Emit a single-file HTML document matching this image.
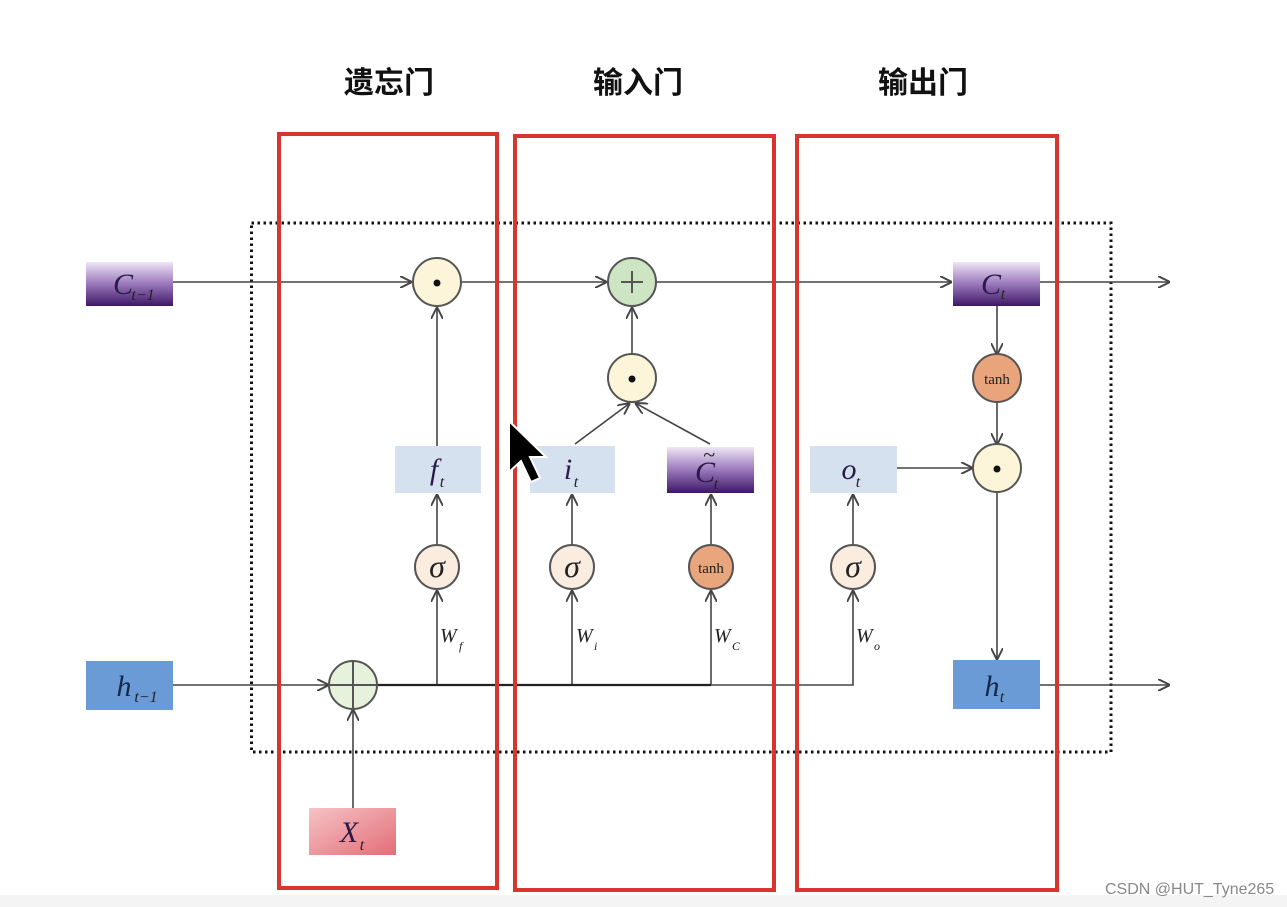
<!DOCTYPE html>
<html><head><meta charset="utf-8"><style>
html,body{margin:0;padding:0;background:#fff;}
svg{display:block;}
</style></head><body>
<svg width="1287" height="907" viewBox="0 0 1287 907" xmlns="http://www.w3.org/2000/svg">
<defs>
<linearGradient id="pur" x1="0" y1="0" x2="0" y2="1">
<stop offset="0" stop-color="#efe6f5"/><stop offset="0.5" stop-color="#9a78bb"/><stop offset="1" stop-color="#3e1766"/>
</linearGradient>
<linearGradient id="pink" x1="0" y1="0" x2="1" y2="1">
<stop offset="0" stop-color="#f6c3c6"/><stop offset="1" stop-color="#e36d76"/>
</linearGradient>
<marker id="ar" viewBox="0 0 10 10" refX="10" refY="5" markerWidth="12" markerHeight="12" markerUnits="userSpaceOnUse" orient="auto">
<path d="M0,0 L10,5 L0,10" fill="none" stroke="#444" stroke-width="1.6"/>
</marker>
</defs>
<rect x="0" y="895" width="1287" height="12" fill="#f4f4f4"/>
<g font-family="'Liberation Sans','Noto Sans CJK SC',sans-serif" font-weight="bold" font-size="30" fill="#111" text-anchor="middle">
<text x="389" y="93">遗忘门</text>
<text x="638" y="93">输入门</text>
<text x="923" y="93">输出门</text>
</g>
<rect x="251.5" y="223" width="859.5" height="529" fill="none" stroke="#111" stroke-width="3" stroke-dasharray="2.5 3.5"/>
<g stroke="#444" stroke-width="1.6" fill="none">
<line x1="173" y1="282" x2="412" y2="282" marker-end="url(#ar)"/>
<line x1="461" y1="282" x2="607" y2="282" marker-end="url(#ar)"/>
<line x1="656" y1="282" x2="952" y2="282" marker-end="url(#ar)"/>
<line x1="1040" y1="282" x2="1170" y2="282" marker-end="url(#ar)"/>
<line x1="437" y1="446" x2="437" y2="307" marker-end="url(#ar)"/>
<line x1="632" y1="354" x2="632" y2="307" marker-end="url(#ar)"/>
<line x1="575" y1="444" x2="630" y2="403" marker-end="url(#ar)"/>
<line x1="710" y1="444" x2="635" y2="403" marker-end="url(#ar)"/>
<line x1="437" y1="545" x2="437" y2="494" marker-end="url(#ar)"/>
<line x1="572" y1="545" x2="572" y2="494" marker-end="url(#ar)"/>
<line x1="711" y1="545" x2="711" y2="494" marker-end="url(#ar)"/>
<line x1="853" y1="545" x2="853" y2="494" marker-end="url(#ar)"/>
<line x1="437" y1="685" x2="437" y2="590" marker-end="url(#ar)"/>
<line x1="572" y1="685" x2="572" y2="590" marker-end="url(#ar)"/>
<line x1="711" y1="685" x2="711" y2="590" marker-end="url(#ar)"/>
<polyline points="377,685 853,685 853,590" marker-end="url(#ar)"/>
<line x1="173" y1="685" x2="329" y2="685" marker-end="url(#ar)"/>
<line x1="353" y1="808" x2="353" y2="709" marker-end="url(#ar)"/>
<line x1="997" y1="306" x2="997" y2="355" marker-end="url(#ar)"/>
<line x1="997" y1="402" x2="997" y2="445" marker-end="url(#ar)"/>
<line x1="897" y1="468" x2="973" y2="468" marker-end="url(#ar)"/>
<line x1="997" y1="492" x2="997" y2="660" marker-end="url(#ar)"/>
<line x1="1040" y1="685" x2="1170" y2="685" marker-end="url(#ar)"/>
</g>
<line x1="377" y1="685" x2="711" y2="685" stroke="#222" stroke-width="2.2"/>
<rect x="86" y="262" width="87" height="44" fill="url(#pur)"/>
<rect x="953" y="262" width="87" height="44" fill="url(#pur)"/>
<rect x="667" y="447" width="87" height="46" fill="url(#pur)"/>
<rect x="395" y="446" width="86" height="47" fill="#d6e1f0"/>
<rect x="530" y="446" width="85" height="47" fill="#d6e1f0"/>
<rect x="810" y="446" width="87" height="47" fill="#d6e1f0"/>
<rect x="86" y="661" width="87" height="49" fill="#6a9bd6"/>
<rect x="953" y="660" width="87" height="49" fill="#6a9bd6"/>
<rect x="309" y="808" width="87" height="47" fill="url(#pink)"/>
<g stroke="#555" stroke-width="2">
<circle cx="437" cy="282" r="24" fill="#fdf5d9"/>
<circle cx="632" cy="282" r="24" fill="#cde5c2"/>
<circle cx="632" cy="378" r="24" fill="#fdf5d9"/>
<circle cx="997" cy="468" r="24" fill="#fdf5d9"/>
<circle cx="997" cy="378" r="24" fill="#eaa47c"/>
<circle cx="711" cy="567" r="22" fill="#e9a57c"/>
<circle cx="437" cy="567" r="22" fill="#fbece0"/>
<circle cx="572" cy="567" r="22" fill="#fbece0"/>
<circle cx="853" cy="567" r="22" fill="#fbece0"/>
<circle cx="353" cy="685" r="24" fill="#e6f2dc"/>
</g>
<g fill="#111"><circle cx="437" cy="283" r="3.5"/><circle cx="632" cy="379" r="3.5"/><circle cx="997" cy="469" r="3.5"/></g>
<g stroke="#555" stroke-width="2"><line x1="632" y1="271" x2="632" y2="293"/><line x1="621" y1="282" x2="643" y2="282"/>
<line x1="353" y1="661" x2="353" y2="709"/><line x1="329" y1="685" x2="377" y2="685"/></g>
<g font-family="'Liberation Serif',serif" fill="#222" text-anchor="middle">
<text x="711" y="573" font-size="15">tanh</text>
<text x="997" y="384" font-size="15">tanh</text>
<g font-size="32" font-style="italic"><text x="437" y="577">σ</text><text x="572" y="577">σ</text><text x="853" y="577">σ</text></g>
<g font-size="30" font-style="italic" fill="#2a1a4a">
<text x="123" y="294">C</text><text x="991" y="294">C</text><text x="705" y="482">C</text>
<text x="434" y="479">f</text><text x="568" y="479">i</text><text x="849" y="479">o</text>
<text x="124" y="696" fill="#13284a">h</text><text x="992" y="696" fill="#13284a">h</text>
<text x="349" y="842">X</text>
</g>
<g font-size="16" font-style="italic">
<text x="143" y="300">t−1</text><text x="1003" y="299">t</text><text x="716" y="489">t</text><text x="709" y="462" font-size="22">~</text>
<text x="442" y="487">t</text><text x="576" y="487">t</text><text x="858" y="487">t</text>
<text x="146" y="702">t−1</text><text x="1002" y="702">t</text><text x="362" y="850">t</text>
</g>
<g font-size="20" font-style="italic" text-anchor="start">
<text x="440" y="642">W</text><text x="459" y="650" font-size="12">f</text>
<text x="576" y="642">W</text><text x="594" y="650" font-size="12">i</text>
<text x="714" y="642">W</text><text x="732" y="650" font-size="12">C</text>
<text x="856" y="642">W</text><text x="874" y="650" font-size="12">o</text>
</g>
</g>
<g fill="none" stroke="#d7352d" stroke-width="4">
<rect x="279" y="134" width="218" height="754"/>
<rect x="515" y="136" width="259" height="754"/>
<rect x="797" y="136" width="260" height="754"/>
</g>
<path d="M509,421 L509,472 L521,461 L531,482 L540,478 L530,457 L546,457 Z" fill="#000" stroke="#fff" stroke-width="2"/>
<text x="1105" y="894" font-family="'Liberation Sans',sans-serif" font-size="16" fill="#888">CSDN @HUT_Tyne265</text>
</svg>
</body></html>
